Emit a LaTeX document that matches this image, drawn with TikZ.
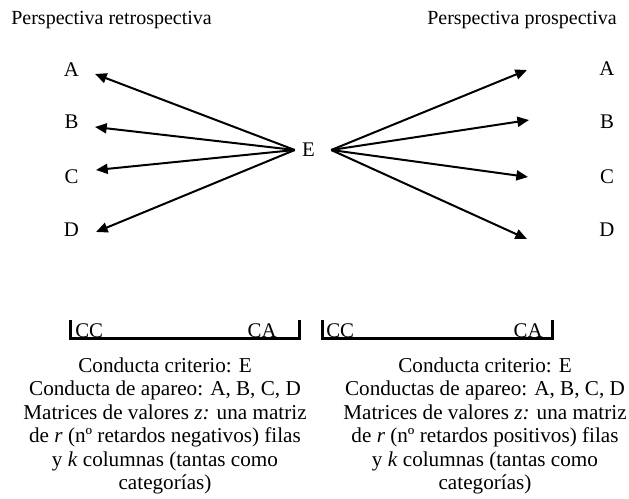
\documentclass[tikz,border=0pt]{standalone}
\usepackage{fontspec}
\setmainfont{Liberation Serif}
\usetikzlibrary{arrows.meta,positioning}

\begin{document}
\begin{tikzpicture}[x=0.6pt,y=-0.6pt, every node/.style={inner sep=0pt,font=\fontsize{12.5}{14}\selectfont},
  titulo/.style={font=\fontsize{12}{14}\selectfont},
  flecha/.style={-{Triangle[length=7pt,width=6pt]},line width=1.2pt},
  corchete/.style={line width=1.8pt},
  texto/.style={align=center,anchor=north,font=\fontsize{12.7}{14.1}\selectfont}]
  \useasboundingbox (0,0) rectangle (629,499);
  \node[titulo,anchor=west] (tretro) at (11,20) {Perspectiva retrospectiva};
  \node[titulo,anchor=east] (tpros) at (617,20) {Perspectiva prospectiva};
  \node (e) at (308.5,150) {E};
  \coordinate (eizq) at ([xshift=-4.2pt]e.west);
  \coordinate (eder) at ([xshift=9.6pt]e.east);
  % retrospectiva
  \begin{scope}
   \node (a1) at (71.5,70) {A};
   \node (b1) at (71.5,122) {B};
   \node (c1) at (71.5,177) {C};
   \node (d1) at (71.5,230) {D};
   \coordinate (ta1) at (95,74); \coordinate (tb1) at (95,127);
   \coordinate (tc1) at (96,170); \coordinate (td1) at (96,232);
   \draw[flecha] (eizq)--(ta1); \draw[flecha] (eizq)--(tb1);
   \draw[flecha] (eizq)--(tc1); \draw[flecha] (eizq)--(td1);
   \draw[corchete] (70,320)--(70,338.5)--(299,338.5)--(299,320);
   \node[anchor=base west] (cc1) at (75,337) {CC};
   \node[anchor=base east] (ca1) at (277,337) {CA};
   \node[texto] (txt1) at (165,357) {Conducta criterio: E\\
     Conducta de apareo: A, B, C, D\\
     Matrices de valores \textit{z:} una matriz\\
     de \textit{r} (nº retardos negativos) filas\\
     y \textit{k} columnas (tantas como\\
     categorías)};
  \end{scope}
  % prospectiva
  \begin{scope}
   \node (a2) at (607,69) {A};
   \node (b2) at (607,122) {B};
   \node (c2) at (607,177) {C};
   \node (d2) at (607,230) {D};
   \coordinate (ta2) at (527,70); \coordinate (tb2) at (529,120);
   \coordinate (tc2) at (528,177); \coordinate (td2) at (527,239);
   \draw[flecha] (eder)--(ta2); \draw[flecha] (eder)--(tb2);
   \draw[flecha] (eder)--(tc2); \draw[flecha] (eder)--(td2);
   \draw[corchete] (322,320)--(322,338.5)--(552,338.5)--(552,320);
   \node[anchor=base west] (cc2) at (326,337) {CC};
   \node[anchor=base east] (ca2) at (543,337) {CA};
   \node[texto] (txt2) at (485,357) {Conducta criterio: E\\
     Conductas de apareo: A, B, C, D\\
     Matrices de valores \textit{z:} una matriz\\
     de \textit{r} (nº retardos positivos) filas\\
     y \textit{k} columnas (tantas como\\
     categorías)};
  \end{scope}
\end{tikzpicture}
\end{document}
